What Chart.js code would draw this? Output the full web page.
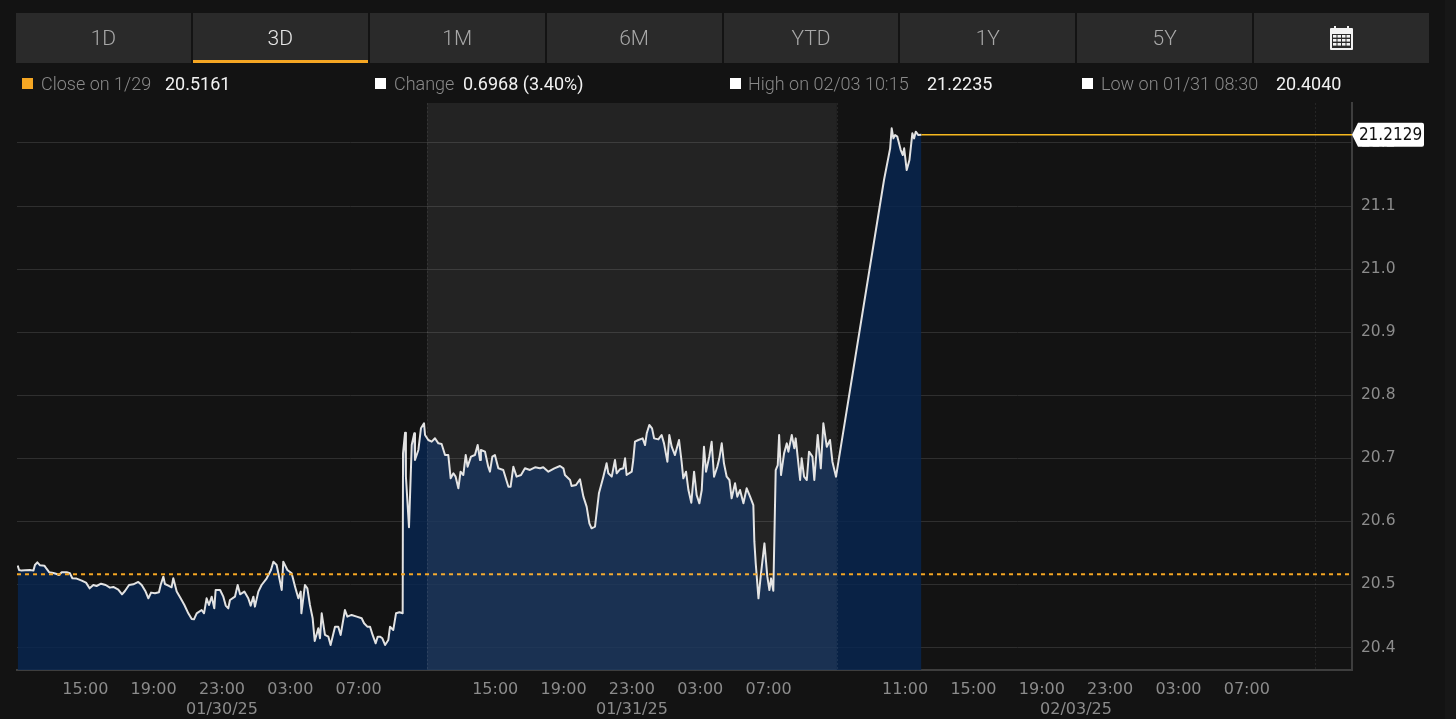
<!DOCTYPE html>
<html>
<head>
<meta charset="utf-8">
<title>3D price chart</title>
<script src="https://cdn.jsdelivr.net/npm/chart.js@4"></script>
<style>
    html, body { margin: 0; padding: 0; background: #131313; width: 1456px; height: 719px; overflow: hidden; }
    #chart { position: absolute; left: 0; top: 0; }
    .strip { position: absolute; left: 1445px; top: 0; width: 11px; height: 719px; background: #171717; }
    #tabs { position: absolute; left: 16px; top: 13px; width: 1413px; height: 50px; display: flex; gap: 2px; }
    .tab { flex: 1; background: #2a2a2a; color: #a8a8a8; font: 300 21px Roboto, sans-serif; line-height: 50px; text-align: center; box-sizing: border-box; }
    .tab.active { color: #e6e6e6; border-bottom: 3px solid #f5a623; line-height: 50px; }
    .tab svg { margin-top: 13px; }
    .swatch { position: absolute; top: 78px; width: 11px; height: 11px; background: #fff; }
    .legend { position: absolute; top: 73px; font: 300 18px/22px Roboto, sans-serif; color: #8a8a8a; white-space: nowrap; }
    .legend.value { color: #f2f2f2; font-weight: 400; }
</style>
</head>
<body>
<canvas id="chart" width="1456" height="719"></canvas>
<div class="strip"></div>
<div id="tabs"></div>
<div id="legends"></div>
<script>
// Boutons de période et légende
const tabLabels = ['1D', '3D', '1M', '6M', 'YTD', '1Y', '5Y', ''];
const activeTab = '3D';
const legendLabels = ['Close on 1/29', 'Change', 'High on 02/03 10:15', 'Low on 01/31 08:30'];
const legendValues = ['20.5161', '0.6968 (3.40%)', '21.2235', '20.4040'];
const swatchLefts = [22, 375, 730, 1082];
const labelLefts = [41, 394, 748, 1101];
const valueLefts = [165, 463, 927, 1276];

// Heures depuis l'ouverture de la première séance
const hours = [
    0.04, 0.12, 0.27, 0.47, 0.76, 0.96, 1.05, 1.19, 1.35, 1.60, 1.74, 1.89, 2.13, 2.32, 2.46, 2.62, 2.91, 3.10, 3.24, 3.49,
    3.79, 4.04, 4.25, 4.47, 4.66, 4.92, 5.19, 5.44, 5.64, 5.93, 6.15, 6.32, 6.56, 6.81, 7.10, 7.30, 7.53, 7.69, 7.85, 8.08,
    8.31, 8.41, 8.57, 8.66, 8.86, 9.05, 9.15, 9.35, 9.58, 9.80, 10.03, 10.23, 10.36, 10.52, 10.81, 10.95, 11.10, 11.24, 11.40, 11.55,
    11.63, 11.89, 12.08, 12.22, 12.37, 12.47, 12.76, 12.92, 13.06, 13.31, 13.54, 13.68, 13.84, 13.93, 14.13, 14.32, 14.62, 14.87, 15.01, 15.20,
    15.36, 15.50, 15.59, 15.83, 16.08, 16.28, 16.47, 16.61, 16.65, 16.86, 17.00, 17.15, 17.31, 17.43, 17.64, 17.74, 17.84, 18.03, 18.23, 18.36,
    18.62, 18.81, 18.95, 19.20, 19.34, 19.59, 19.89, 20.18, 20.32, 20.51, 20.67, 20.82, 21.00, 21.12, 21.25, 21.39, 21.55, 21.74, 21.84, 22.03,
    22.19, 22.39, 22.58, 22.60, 22.72, 22.77, 22.95, 23.11, 23.26, 23.30, 23.50, 23.65, 23.83, 23.89, 24.08, 24.28, 24.47, 24.67, 24.86, 25.06,
    25.25, 25.39, 25.55, 25.68, 25.84, 25.97, 26.13, 26.27, 26.38, 26.58, 26.81, 26.97, 27.11, 27.16, 27.40, 27.59, 27.69, 27.83, 27.98, 28.18,
    28.47, 28.77, 28.90, 29.06, 29.25, 29.51, 29.74, 30.03, 30.33, 30.62, 30.81, 31.11, 31.46, 31.79, 31.99, 32.08, 32.38, 32.47, 32.73, 32.96,
    33.16, 33.35, 33.51, 33.64, 33.84, 34.07, 34.33, 34.52, 34.62, 34.82, 35.01, 35.11, 35.30, 35.50, 35.60, 35.69, 35.99, 36.08, 36.18, 36.38,
    36.63, 36.77, 36.87, 37.02, 37.18, 37.30, 37.55, 37.74, 37.88, 38.08, 38.19, 38.33, 38.52, 38.76, 38.91, 39.01, 39.17, 39.31, 39.48, 39.64,
    39.79, 39.95, 40.09, 40.22, 40.34, 40.53, 40.67, 40.81, 41.00, 41.12, 41.26, 41.39, 41.55, 41.71, 41.84, 42.04, 42.17, 42.33, 42.53, 42.72,
    42.92, 43.11, 43.17, 43.25, 43.41, 43.56, 43.76, 43.93, 44.05, 44.15, 44.28, 44.42, 44.54, 44.62, 44.73, 44.91, 45.07, 45.16, 45.36, 45.51,
    45.59, 45.85, 45.94, 46.08, 46.24, 46.37, 46.57, 46.68, 46.88, 47.06, 47.21, 47.41, 47.60, 47.74, 47.95, 50.76, 51.12, 51.21, 51.31, 51.41,
    51.54, 51.74, 51.86, 51.94, 52.09, 52.25, 52.42, 52.52, 52.62, 52.77, 52.95
];
const prices = [
    20.5298, 20.5229, 20.5219, 20.5224, 20.5229, 20.5219, 20.5308, 20.5350, 20.5303, 20.5298, 20.5245, 20.5192, 20.5182, 20.5166, 20.5150, 20.5192, 20.5192, 20.5176, 20.5097, 20.5092,
    20.5060, 20.5028, 20.4938, 20.4991, 20.4975, 20.5012, 20.4991, 20.4949, 20.4960, 20.4917, 20.4843, 20.4896, 20.4991, 20.5002, 20.5039, 20.4991, 20.4886, 20.4780, 20.4870, 20.4859,
    20.4875, 20.4991, 20.5123, 20.5007, 20.4980, 20.4954, 20.5097, 20.4886, 20.4780, 20.4674, 20.4542, 20.4452, 20.4447, 20.4542, 20.4595, 20.4542, 20.4780, 20.4674, 20.4806, 20.4621,
    20.4912, 20.4912, 20.4806, 20.4664, 20.4621, 20.4753, 20.4806, 20.4991, 20.4843, 20.4886, 20.4780, 20.4664, 20.4806, 20.4648, 20.4886, 20.4991, 20.5097, 20.5229, 20.5361, 20.5308,
    20.5097, 20.4912, 20.5361, 20.5229, 20.5176, 20.4965, 20.4780, 20.4886, 20.4542, 20.4991, 20.4938, 20.4674, 20.4463, 20.4103, 20.4304, 20.4146, 20.4542, 20.4199, 20.4172, 20.4040,
    20.4330, 20.4330, 20.4199, 20.4595, 20.4489, 20.4516, 20.4489, 20.4463, 20.4384, 20.4330, 20.4330, 20.4199, 20.4066, 20.4172, 20.4172, 20.4146, 20.4040, 20.4119, 20.4330, 20.4278,
    20.4542, 20.4558, 20.4542, 20.7079, 20.7407, 20.6709, 20.5906, 20.7211, 20.7396, 20.6973, 20.7132, 20.7475, 20.7555, 20.7370, 20.7290, 20.7264, 20.7317, 20.7237, 20.7227, 20.7052,
    20.7052, 20.6683, 20.6762, 20.6709, 20.6524, 20.6788, 20.6735, 20.7052, 20.6867, 20.7026, 20.7052, 20.7211, 20.6973, 20.7132, 20.7105, 20.6867, 20.6788, 20.7026, 20.7052, 20.6841,
    20.6815, 20.6550, 20.6550, 20.6867, 20.6709, 20.6735, 20.6841, 20.6815, 20.6857, 20.6841, 20.6857, 20.6788, 20.6841, 20.6878, 20.6841, 20.6735, 20.6656, 20.6561, 20.6577, 20.6667,
    20.6392, 20.6233, 20.5969, 20.5890, 20.5916, 20.6445, 20.6709, 20.6920, 20.6762, 20.6709, 20.6973, 20.6762, 20.6825, 20.6841, 20.6999, 20.6735, 20.6788, 20.6973, 20.7263, 20.7290,
    20.7316, 20.7210, 20.7396, 20.7528, 20.7475, 20.7316, 20.7300, 20.7369, 20.7237, 20.6946, 20.7369, 20.7184, 20.7052, 20.7290, 20.6946, 20.6682, 20.6788, 20.6497, 20.6296, 20.6788,
    20.6418, 20.6286, 20.6497, 20.7184, 20.6788, 20.7026, 20.7263, 20.6708, 20.6867, 20.6999, 20.7237, 20.6920, 20.6708, 20.6656, 20.6365, 20.6603, 20.6391, 20.6497, 20.6286, 20.6524,
    20.6391, 20.6259, 20.5678, 20.5334, 20.4779, 20.5176, 20.5651, 20.5123, 20.4911, 20.5096, 20.4900, 20.6814, 20.6893, 20.7369, 20.6735, 20.7078, 20.7237, 20.7105, 20.7369, 20.7158,
    20.7316, 20.6656, 20.6999, 20.6708, 20.6656, 20.7105, 20.7026, 20.6656, 20.7369, 20.6841, 20.7554, 20.7184, 20.7290, 20.6946, 20.6708, 21.1413, 21.1915, 21.2232, 21.2073, 21.2126,
    21.2100, 21.1888, 21.1809, 21.1915, 21.1571, 21.1730, 21.2153, 21.2073, 21.2179, 21.2126, 21.2129
];

const lastPrice = 21.2129;
const lastHours = [52.95, 78.16];
const closePrice = 20.5161;
const closeHours = [0, 78.16];

// Axes
const xRange = [0, 78.16];
const yRange = [20.3643, 21.2634];
const yTicks = [20.4, 20.5, 20.6, 20.7, 20.8, 20.9, 21.0, 21.1, 21.2];
const timeTicks = [4, 8, 12, 16, 20, 28, 32, 36, 40, 44, 52, 56, 60, 62, 64, 68, 72];
const timeLabels = ['15:00', '19:00', '23:00', '03:00', '07:00', '15:00', '19:00', '23:00', '03:00', '07:00', '11:00', '15:00', '19:00', '', '23:00', '03:00', '07:00'];
const dateTicks = [12, 36, 62];
const dateLabels = ['01/30/25', '01/31/25', '02/03/25'];
const sessionBand = [24, 48];
const sessionEdges = [24, 48, 76];

const AXIS_FONT = "'DejaVu Sans', sans-serif";

// Construire les boutons
const tabsEl = document.getElementById('tabs');
tabLabels.forEach(label => {
    const tab = document.createElement('div');
    tab.className = label === activeTab ? 'tab active' : 'tab';
    tab.textContent = label;
    if (label === '') {
        tab.innerHTML = '<svg width="23" height="24" viewBox="0 0 23 24"><rect x="0" y="2" width="23" height="22" rx="1" fill="#f2f2f2"/><rect x="4" y="0" width="2" height="4" fill="#f2f2f2"/><rect x="17" y="0" width="2" height="4" fill="#f2f2f2"/><g fill="#2a2a2a"><rect x="2" y="8" width="19" height="14"/></g><g fill="#f2f2f2"><rect x="3" y="9" width="3.5" height="2.6"/><rect x="7.5" y="9" width="3.5" height="2.6"/><rect x="12" y="9" width="3.5" height="2.6"/><rect x="16.5" y="9" width="3.5" height="2.6"/><rect x="3" y="13" width="3.5" height="2.6"/><rect x="7.5" y="13" width="3.5" height="2.6"/><rect x="12" y="13" width="3.5" height="2.6"/><rect x="16.5" y="13" width="3.5" height="2.6"/><rect x="3" y="17" width="3.5" height="2.6"/><rect x="7.5" y="17" width="3.5" height="2.6"/><rect x="12" y="17" width="3.5" height="2.6"/><rect x="16.5" y="17" width="3.5" height="2.6"/></g></svg>';
    }
    tabsEl.appendChild(tab);
});

// Construire la légende
const legendsEl = document.getElementById('legends');
legendLabels.forEach((label, i) => {
    const swatch = document.createElement('div');
    swatch.className = 'swatch';
    swatch.style.left = swatchLefts[i] + 'px';
    if (i === 0) {
        swatch.style.background = '#f5a623';
    }
    const text = document.createElement('div');
    text.className = 'legend';
    text.style.left = labelLefts[i] + 'px';
    text.textContent = label;
    const value = document.createElement('div');
    value.className = 'legend value';
    value.style.left = valueLefts[i] + 'px';
    value.textContent = legendValues[i];
    legendsEl.append(swatch, text, value);
});

// Bande de séance et séparateurs
const sessionPlugin = {
    id: 'sessionPlugin',
    afterDatasetsDraw(chart) {
        const { ctx, chartArea, scales } = chart;
        const left = scales.x.getPixelForValue(sessionBand[0]);
        const right = scales.x.getPixelForValue(sessionBand[1]);
        ctx.save();
        ctx.fillStyle = 'rgba(255, 255, 255, 0.072)';
        ctx.fillRect(left, chartArea.top, right - left, chartArea.bottom - chartArea.top);
        ctx.strokeStyle = 'rgba(255, 255, 255, 0.08)';
        ctx.setLineDash([2, 2]);
        ctx.lineWidth = 1;
        sessionEdges.forEach(edge => {
            const px = Math.round(scales.x.getPixelForValue(edge)) + 0.5;
            ctx.beginPath();
            ctx.moveTo(px, chartArea.top);
            ctx.lineTo(px, chartArea.bottom);
            ctx.stroke();
        });
        ctx.restore();
    }
};

// Étiquette du dernier prix
const lastPriceTag = {
    id: 'lastPriceTag',
    afterDraw(chart) {
        const { ctx, chartArea, scales } = chart;
        const y = scales.y.getPixelForValue(lastPrice);
        const x = chartArea.right;
        ctx.save();
        ctx.fillStyle = '#ffffff';
        ctx.beginPath();
        ctx.moveTo(x, y);
        ctx.lineTo(x + 6, y - 12);
        ctx.lineTo(x + 70, y - 12);
        ctx.quadraticCurveTo(x + 72, y - 12, x + 72, y - 10);
        ctx.lineTo(x + 72, y + 10);
        ctx.quadraticCurveTo(x + 72, y + 12, x + 70, y + 12);
        ctx.lineTo(x + 6, y + 12);
        ctx.closePath();
        ctx.fill();
        ctx.fillStyle = '#111111';
        ctx.font = "17px 'DejaVu Sans Condensed', 'DejaVu Sans', sans-serif";
        ctx.textAlign = 'center';
        ctx.textBaseline = 'middle';
        ctx.fillText(lastPrice.toFixed(4), x + 38.5, y + 1);
        ctx.restore();
    }
};

const chart = new Chart(document.getElementById('chart').getContext('2d'), {
    type: 'line',
    data: {
        datasets: [
            {
                label: 'Price',
                data: hours.map((h, i) => ({ x: h, y: prices[i] })),
                borderColor: '#e2e2e2',
                borderWidth: 2,
                borderJoinStyle: 'round',
                backgroundColor: 'rgba(8, 38, 79, 0.85)',
                fill: 'start',
                pointRadius: 0,
                tension: 0,
                order: 3
            },
            {
                label: 'Last',
                data: lastHours.map(h => ({ x: h, y: lastPrice })),
                borderColor: '#f5b81e',
                borderWidth: 1.5,
                pointRadius: 0,
                fill: false,
                order: 2
            },
            {
                label: 'Close on 1/29',
                data: closeHours.map(h => ({ x: h, y: closePrice })),
                borderColor: '#f5a623',
                borderWidth: 2,
                borderDash: [4, 4],
                pointRadius: 0,
                fill: false,
                order: 1
            }
        ]
    },
    options: {
        responsive: false,
        animation: false,
        layout: { padding: { left: 17, top: 103, right: 0, bottom: 0 } },
        plugins: { legend: { display: false }, tooltip: { enabled: false } },
        scales: {
            x: {
                type: 'linear',
                min: xRange[0],
                max: xRange[1],
                grid: { display: false },
                border: { color: '#3e3e3e', width: 2 },
                afterBuildTicks: axis => { axis.ticks = timeTicks.map(v => ({ value: v })); },
                afterFit: axis => { axis.height = 49; },
                ticks: {
                    autoSkip: false,
                    maxRotation: 0,
                    minRotation: 0,
                    padding: 2,
                    color: '#8c8c8c',
                    font: { family: AXIS_FONT, size: 16, lineHeight: 1.25 },
                    callback: function(value) {
                        const time = timeLabels[timeTicks.indexOf(value)];
                        const d = dateTicks.indexOf(value);
                        return d >= 0 ? [time, dateLabels[d]] : time;
                    }
                }
            },
            y: {
                position: 'right',
                min: yRange[0],
                max: yRange[1],
                grid: { color: '#2f2f2f', drawTicks: false },
                border: { color: '#3e3e3e', width: 2 },
                afterBuildTicks: axis => { axis.ticks = yTicks.map(v => ({ value: v })); },
                afterFit: axis => { axis.width = 104; },
                ticks: {
                    padding: 9,
                    color: '#8c8c8c',
                    font: { family: AXIS_FONT, size: 15.5 },
                    callback: value => value.toFixed(1)
                }
            }
        }
    },
    plugins: [sessionPlugin, lastPriceTag]
});
</script>
</body>
</html>
